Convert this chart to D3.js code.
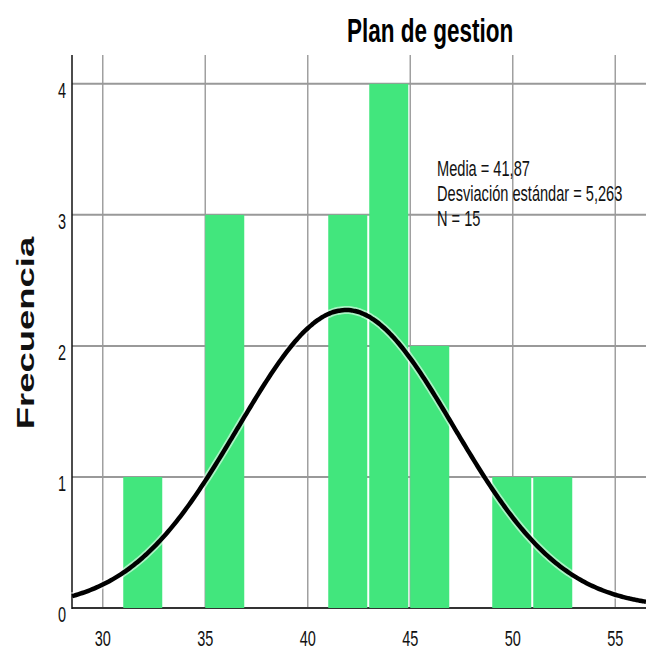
<!DOCTYPE html>
<html>
<head>
<meta charset="utf-8">
<script src="https://cdn.jsdelivr.net/npm/d3@7"></script>
<style>
  body { margin: 0; background: #fff; }
  svg { display: block; }
</style>
</head>
<body>
<script>
// histogram bins (start value of each bin) and their counts
var binStarts = [ 31, 35, 41, 43, 45, 49, 51 ];
var binCounts = [ 1, 3, 3, 4, 2, 1, 1 ];
var binWidth = 2;

var xTicks = [ 30, 35, 40, 45, 50, 55 ];
var yTicks = [ 0, 1, 2, 3, 4 ];

var mean = 41.87;
var sd = 5.263;
var n = 15;
var statLines = [ 'Media = 41,87', 'Desviación estándar = 5,263', 'N = 15' ];

var W = 646, H = 650;
var plotLeft = 72, plotRight = 646, plotTop = 55, plotBottom = 608;

var svg = d3.select( 'body' ).append( 'svg' )
  .attr( 'width', W )
  .attr( 'height', H );

var x = d3.scaleLinear().domain( [ 28.5, 56.5 ] ).range( [ plotLeft, plotRight ] );
var y = d3.scaleLinear().domain( [ 0, 4.22 ] ).range( [ plotBottom, plotTop ] );

// vertical grid
svg.selectAll( 'line.vgrid' )
  .data( xTicks )
  .enter().append( 'line' )
  .attr( 'class', 'vgrid' )
  .attr( 'x1', function ( d ) { return x( d ); } )
  .attr( 'x2', function ( d ) { return x( d ); } )
  .attr( 'y1', plotTop )
  .attr( 'y2', plotBottom )
  .attr( 'stroke', '#a0a0a0' )
  .attr( 'stroke-width', 1.5 );

// horizontal grid
svg.selectAll( 'line.hgrid' )
  .data( yTicks.slice( 1 ) )
  .enter().append( 'line' )
  .attr( 'class', 'hgrid' )
  .attr( 'x1', plotLeft )
  .attr( 'x2', plotRight )
  .attr( 'y1', function ( d ) { return y( d ); } )
  .attr( 'y2', function ( d ) { return y( d ); } )
  .attr( 'stroke', '#999' )
  .attr( 'stroke-width', 2 );

// axes lines
svg.append( 'line' )
  .attr( 'x1', plotLeft ).attr( 'x2', plotRight )
  .attr( 'y1', plotBottom ).attr( 'y2', plotBottom )
  .attr( 'stroke', '#333' ).attr( 'stroke-width', 2 );
svg.append( 'line' )
  .attr( 'x1', plotLeft ).attr( 'x2', plotLeft )
  .attr( 'y1', plotTop ).attr( 'y2', plotBottom + 1 )
  .attr( 'stroke', '#111' ).attr( 'stroke-width', 1.5 );

// bars
svg.selectAll( 'rect.bar' )
  .data( binStarts )
  .enter().append( 'rect' )
  .attr( 'class', 'bar' )
  .attr( 'x', function ( d ) { return x( d ); } )
  .attr( 'width', function ( d ) { return x( d + binWidth ) - x( d ) - 2; } )
  .attr( 'y', function ( d, i ) { return y( binCounts[ i ] ); } )
  .attr( 'height', function ( d, i ) { return plotBottom - y( binCounts[ i ] ); } )
  .attr( 'fill', '#42e67d' );

// normal curve
var xs = d3.range( 28.5, 56.6, 0.1 );
var scale = n * binWidth;
var curve = d3.line()
  .x( function ( d ) { return x( d ); } )
  .y( function ( d ) {
    var z = ( d - mean ) / sd;
    return y( scale * Math.exp( -0.5 * z * z ) / ( sd * Math.sqrt( 2 * Math.PI ) ) );
  } )
  .curve( d3.curveBasis );

svg.append( 'path' )
  .attr( 'd', curve( xs ) )
  .attr( 'fill', 'none' )
  .attr( 'stroke', '#fff' )
  .attr( 'stroke-opacity', 0.55 )
  .attr( 'stroke-width', 8 );
svg.append( 'path' )
  .attr( 'd', curve( xs ) )
  .attr( 'fill', 'none' )
  .attr( 'stroke', '#000' )
  .attr( 'stroke-width', 4.5 );

var font = 'Liberation Sans, Arial, sans-serif';

// tick labels (picture is stretched vertically, so scale text the same way)
svg.selectAll( 'text.ylab' )
  .data( yTicks )
  .enter().append( 'text' )
  .attr( 'class', 'ylab' )
  .attr( 'transform', function ( d ) { return 'translate(66,' + ( y( d ) + 14 ) + ') scale(1,1.5)'; } )
  .attr( 'text-anchor', 'end' )
  .attr( 'font-family', font )
  .attr( 'font-size', 14.5 )
  .attr( 'fill', '#111' )
  .text( function ( d ) { return d; } );

svg.selectAll( 'text.xlab' )
  .data( xTicks )
  .enter().append( 'text' )
  .attr( 'class', 'xlab' )
  .attr( 'transform', function ( d ) { return 'translate(' + x( d ) + ',646) scale(1,1.5)'; } )
  .attr( 'text-anchor', 'middle' )
  .attr( 'font-family', font )
  .attr( 'font-size', 14.5 )
  .attr( 'fill', '#111' )
  .text( function ( d ) { return d; } );

// title
svg.append( 'text' )
  .attr( 'transform', 'translate(430,42) scale(1,1.45)' )
  .attr( 'text-anchor', 'middle' )
  .attr( 'font-family', font )
  .attr( 'font-size', 22.5 )
  .attr( 'font-weight', 'bold' )
  .attr( 'fill', '#000' )
  .text( 'Plan de gestion' );

// y title
svg.append( 'text' )
  .attr( 'transform', 'translate(34,333) rotate(-90) scale(1.55,1)' )
  .attr( 'text-anchor', 'middle' )
  .attr( 'font-family', font )
  .attr( 'font-size', 23.5 )
  .attr( 'font-weight', 'bold' )
  .attr( 'fill', '#111' )
  .text( 'Frecuencia' );

// stats
svg.selectAll( 'text.stat' )
  .data( statLines )
  .enter().append( 'text' )
  .attr( 'class', 'stat' )
  .attr( 'transform', function ( d, i ) { return 'translate(437,' + ( 176 + i * 25 ) + ') scale(1,1.45)'; } )
  .attr( 'font-family', font )
  .attr( 'font-size', 14.6 )
  .attr( 'fill', '#111' )
  .text( function ( d ) { return d; } );
</script>
</body>
</html>
